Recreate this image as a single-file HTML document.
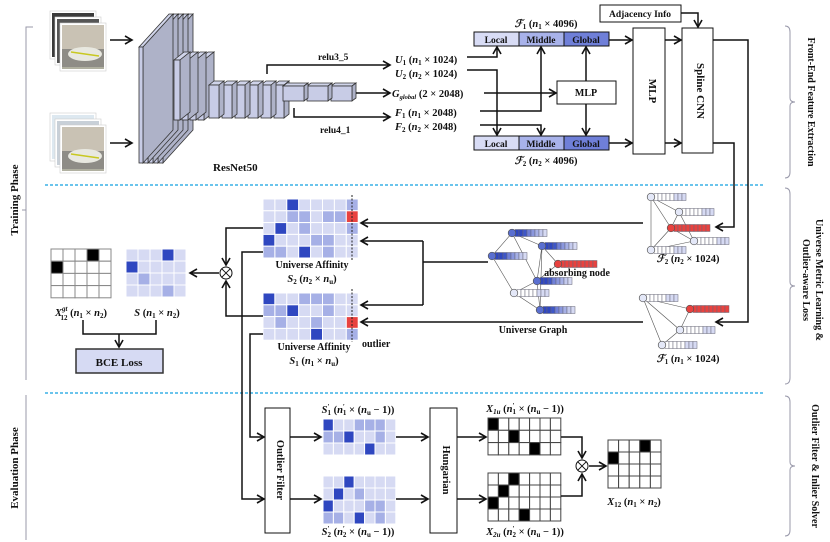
<!DOCTYPE html>
<html><head><meta charset="utf-8"><style>
html,body{margin:0;padding:0;background:#fff}
svg{display:block}
text{font-family:"Liberation Serif",serif;fill:#111}
.b{font-weight:bold}
.i{font-style:italic;font-weight:bold}
</style></head><body>
<svg id="s" width="830" height="542" viewBox="0 0 830 542" xmlns="http://www.w3.org/2000/svg">
<defs>
<marker id="ar" markerWidth="10" markerHeight="10" refX="8" refY="5" orient="auto" markerUnits="userSpaceOnUse"><path d="M1,1 L8,5 L1,9" fill="none" stroke="#111" stroke-width="1.6"/></marker>
</defs>
<g id="g" stroke-linejoin="miter"></g>
</svg>
<script>
const g=document.getElementById('g');let h='';
const L='#d6daf3',M='#a6b0e6',D='#2f47c0',R='#e8423f',W='#fff',K='#000';
function ln(pts,arrow,w){h+=`<polyline points="${pts}" fill="none" stroke="#111" stroke-width="${w||1.5}" ${arrow?'marker-end="url(#ar)"':''}/>`;}
function rect(x,y,w,hh,f,s,sw){h+=`<rect x="${x}" y="${y}" width="${w}" height="${hh}" fill="${f}" stroke="${s||'#111'}" stroke-width="${sw||1}"/>`;}
function t(x,y,s,sz,cls,anc,extra){h+=`<text x="${x}" y="${y}" font-size="${sz||10}" class="${cls||'b'}" text-anchor="${anc||'start'}" ${extra||''}>${s}</text>`;}
function grid(x,y,cw,ch,rows,map,line){rows.forEach((r,i)=>{[...r].forEach((c,j)=>{h+=`<rect x="${x+j*cw}" y="${y+i*ch}" width="${cw}" height="${ch}" fill="${map[c]}" stroke="${line}" stroke-width="1"/>`;});});}
const am={L:L,M:M,D:D,R:R};const bm={'0':W,'1':K};
h+=`<line x1="45" y1="185" x2="765" y2="185" stroke="#3ab0e6" stroke-width="1.5" stroke-dasharray="3,2"/>`;
h+=`<line x1="45" y1="393" x2="765" y2="393" stroke="#3ab0e6" stroke-width="1.5" stroke-dasharray="3,2"/>`;
h+=`<path d="M33,27 L26,27 L26,380" fill="none" stroke="#99a" stroke-width="1"/><path d="M26,210 L22,210" stroke="#99a"/>`;
h+=`<path d="M26,395 L26,540" fill="none" stroke="#99a" stroke-width="1"/>`;
t(18,200,'Training Phase',11,'b','middle','transform="rotate(-90 18 200)"');
t(18,468,'Evaluation Phase',11,'b','middle','transform="rotate(-90 18 468)"');
function brace(y1,y2){const m=(y1+y2)/2;h+=`<path d="M785,${y1} Q790,${y1} 790,${y1+6} L790,${m-4} Q790,${m} 795,${m} Q790,${m} 790,${m+4} L790,${y2-6} Q790,${y2} 785,${y2}" fill="none" stroke="#99a" stroke-width="1"/>`;}
brace(26,178);brace(188,384);brace(396,536);
t(808,102,'Front-End Feature Extraction',10,'b','middle','transform="rotate(90 808 102)"');
t(816,280,'Universe Metric Learning &amp;',10,'b','middle','transform="rotate(90 816 280)"');
t(803,280,'Outlier-aware Loss',10,'b','middle','transform="rotate(90 803 280)"');
t(812,466,'Outlier Filter &amp; Inlier Solver',10,'b','middle','transform="rotate(90 812 466)"');
function imgs(x,y,top){const cols=[top?'#3a3a3a':'#dde8f0',top?'#555':'#c8d0d8','#b0b0a0'];for(let k=0;k<3;k++){const ox=x+k*5,oy=y+k*6;h+=`<rect x="${ox}" y="${oy}" width="44" height="46" fill="${cols[k]}" stroke="#fff" stroke-width="2"/><rect x="${ox-1}" y="${oy-1}" width="46" height="48" fill="none" stroke="#ccc" stroke-width="0.6"/>`;}
const px=x+10,py=y+12;h+=`<rect x="${px+1}" y="${py+1}" width="42" height="24" fill="#c9c2b4"/><rect x="${px+1}" y="${py+25}" width="42" height="18" fill="#8e8c86"/><ellipse cx="${px+24}" cy="${py+30}" rx="17" ry="7" fill="#e8e8e0"/><path d="M${px+10},${py+28} L${px+38},${py+32}" stroke="#c8c820" stroke-width="1.5"/>`;}
imgs(51,12,true);imgs(51,114,false);
ln('110,40 132,40',1);ln('110,143 132,143',1);
function slab(x,y,w,hh,dx,dy){h+=`<polygon points="${x},${y} ${x+dx},${y-dy} ${x+dx+w},${y-dy} ${x+w},${y}" fill="#d0d4ea" stroke="#333" stroke-width="0.8"/><polygon points="${x+w},${y} ${x+w+dx},${y-dy} ${x+w+dx},${y+hh-dy} ${x+w},${y+hh}" fill="#aeb2c8" stroke="#333" stroke-width="0.8"/><rect x="${x}" y="${y}" width="${w}" height="${hh}" fill="#c8cce6" stroke="#333" stroke-width="0.8"/>`;}
for(let k=4;k>=0;k--)slab(139+k*5,47,4,116,30,33);
for(let k=3;k>=0;k--)slab(174+k*8,60,6,60,10,8);
for(let k=5;k>=0;k--)slab(209+k*13,85,10,33,5,4);
for(let k=2;k>=0;k--)slab(283+k*24,86,21,15,4,3);
t(213,171,'ResNet50',11);
ln('267,74 267,65 390,65',1);t(318,60,'relu3_5',9.5);
ln('294,108 294,117 390,117',1);t(320,133,'relu4_1',9.5);
ln('356,93 390,93',1);
const FS=10.5;
t(395,63,'<tspan class="i">U</tspan><tspan font-size="7" dy="2">1</tspan><tspan dy="-2"> (</tspan><tspan class="i">n</tspan><tspan font-size="7" dy="2">1</tspan><tspan dy="-2"> × 1024)</tspan>',FS);
t(395,77,'<tspan class="i">U</tspan><tspan font-size="7" dy="2">2</tspan><tspan dy="-2"> (</tspan><tspan class="i">n</tspan><tspan font-size="7" dy="2">2</tspan><tspan dy="-2"> × 1024)</tspan>',FS);
t(392,97,'<tspan class="i">G</tspan><tspan font-size="6.5" class="i" dy="2">global</tspan><tspan dy="-2"> (2 × 2048)</tspan>',FS);
t(395,116,'<tspan class="i">F</tspan><tspan font-size="7" dy="2">1</tspan><tspan dy="-2"> (</tspan><tspan class="i">n</tspan><tspan font-size="7" dy="2">1</tspan><tspan dy="-2"> × 2048)</tspan>',FS);
t(395,130,'<tspan class="i">F</tspan><tspan font-size="7" dy="2">2</tspan><tspan dy="-2"> (</tspan><tspan class="i">n</tspan><tspan font-size="7" dy="2">2</tspan><tspan dy="-2"> × 2048)</tspan>',FS);
function lmg(y){rect(474,y,45,14,'#d8dcf5');rect(519,y,45,14,'#a8b2ea');rect(564,y,45,14,'#6f7fd8');t(496,y+11,'Local',9.5,'b','middle');t(541,y+11,'Middle',9.5,'b','middle');t(586,y+11,'Global',9.5,'b','middle');}
lmg(32);lmg(136);
t(546,27,'<tspan class="i">ℱ</tspan><tspan font-size="7" dy="2">1</tspan><tspan dy="-2"> (</tspan><tspan class="i">n</tspan><tspan font-size="7" dy="2">1</tspan><tspan dy="-2"> × 4096)</tspan>',FS,'b','middle');
t(546,164,'<tspan class="i">ℱ</tspan><tspan font-size="7" dy="2">2</tspan><tspan dy="-2"> (</tspan><tspan class="i">n</tspan><tspan font-size="7" dy="2">2</tspan><tspan dy="-2"> × 4096)</tspan>',FS,'b','middle');
ln('467,57 497,57 497,47',1);
ln('467,70 497,70 497,135',1);
ln('480,111 541,111 541,47',1);
ln('480,125 541,125 541,135',1);
ln('484,93 556,93',1);
rect(557,81,59,23,'#fff');t(586,96,'MLP',10,'b','middle');
ln('586,81 586,47',1);ln('586,104 586,135',1);
ln('609,40 632,40',1);ln('609,143 632,143',1);
rect(633,28,32,126,'#fff');t(649,91,'MLP',11,'b','middle','transform="rotate(90 649 91)"');
rect(682,28,31,125,'#fff');t(697,91,'Spline CNN',11,'b','middle','transform="rotate(90 697 91)"');
ln('665,40 681,40',1);ln('665,143 681,143',1);
rect(600,5,81,17,'#fff');t(640,17,'Adjacency Info',9.5,'b','middle');
ln('681,13 698,13 698,27',1);
ln('713,40 748,40 748,322 716,322',1);
ln('713,143 734,143 734,227 716,227',1);
function bar(x,y,n,cols){for(let i=0;i<n;i++){h+=`<rect x="${x+i*4}" y="${y-3.5}" width="4" height="7" fill="${cols[i]}" stroke="#667" stroke-width="0.5"/>`;}}
const wb=['#fff','#fff','#fff','#fff','#fff','#d6daf3','#d6daf3','#d6daf3'];
const rb=Array(9).fill(R);
const ub=['#2f47c0','#2f47c0','#3e56c8','#6f7fd8','#8a97de','#a6b0e6','#c4caee','#d6daf3'];
function node(x,y,f){h+=`<circle cx="${x}" cy="${y}" r="3.8" fill="${f}" stroke="#555" stroke-width="0.7"/>`;}
function graph(nodes,edges){edges.forEach(e=>{const a=nodes[e[0]],b=nodes[e[1]];h+=`<line x1="${a[0]}" y1="${a[1]}" x2="${b[0]}" y2="${b[1]}" stroke="#555" stroke-width="0.6"/>`;});nodes.forEach(n=>{bar(n[0]+3,n[1],n[3]||8,n[2]);node(n[0],n[1],n[2]===rb?R:(n[2]===ub?'#5a6fd0':'#e4e8f8'));});}
graph([[651,197,wb],[679,212,wb],[671,228,rb,9],[694,241,wb],[651,250,wb]],[[0,1],[0,2],[0,4],[1,2],[2,3],[2,4],[4,3],[1,3]]);
graph([[643,298,wb],[690,309,rb,9],[680,330,wb],[662,345,wb]],[[0,1],[0,2],[0,3],[1,2],[2,3]]);
graph([[512,233,ub],[542,246,ub],[492,256,ub],[558,264,rb,9],[537,281,ub],[514,293,wb],[540,310,ub]],[[0,1],[0,2],[0,4],[1,4],[1,3],[2,5],[4,3],[4,5],[5,6],[4,6],[1,6]]);
t(688,262,'<tspan class="i">ℱ</tspan><tspan font-size="7" dy="2">2</tspan><tspan dy="-2"> (</tspan><tspan class="i">n</tspan><tspan font-size="7" dy="2">2</tspan><tspan dy="-2"> × 1024)</tspan>',FS,'b','middle');
t(688,362,'<tspan class="i">ℱ</tspan><tspan font-size="7" dy="2">1</tspan><tspan dy="-2"> (</tspan><tspan class="i">n</tspan><tspan font-size="7" dy="2">1</tspan><tspan dy="-2"> × 1024)</tspan>',FS,'b','middle');
t(577,276,'absorbing node',10,'b','middle');
t(533,333,'Universe Graph',10,'b','middle');
ln('643,223 361,223',1);ln('643,322 361,322',1);
ln('488,262 423,262');ln('423,241 423,305');ln('423,241 361,241',1);ln('423,305 361,305',1);
grid(263,199,11.9,11.8,['LLDLLLLM','LLMMLMMR','LDLMLLLM','DLLLMMLL','MMLDLMLL'],am,'#fff');
grid(263,293,11.9,11.8,['DLLMMMLL','MMDLLMLL','LMLLMLLR','LLLLDLLM'],am,'#fff');
h+=`<line x1="352" y1="195" x2="352" y2="260" stroke="#222" stroke-dasharray="2,1.5" stroke-width="1"/><line x1="352" y1="289" x2="352" y2="342" stroke="#222" stroke-dasharray="2,1.5" stroke-width="1"/>`;
t(312,268,'Universe Affinity',10,'b','middle');
t(312,282,'<tspan class="i">S</tspan><tspan font-size="7" dy="2">2</tspan><tspan dy="-2"> (</tspan><tspan class="i">n</tspan><tspan font-size="7" dy="2">2</tspan><tspan dy="-2"> × </tspan><tspan class="i">n</tspan><tspan font-size="7" dy="2">u</tspan><tspan dy="-2">)</tspan>',FS,'b','middle');
t(314,350,'Universe Affinity',10,'b','middle');
t(314,364,'<tspan class="i">S</tspan><tspan font-size="7" dy="2">1</tspan><tspan dy="-2"> (</tspan><tspan class="i">n</tspan><tspan font-size="7" dy="2">1</tspan><tspan dy="-2"> × </tspan><tspan class="i">n</tspan><tspan font-size="7" dy="2">u</tspan><tspan dy="-2">)</tspan>',FS,'b','middle');
t(362,347,'outlier',10);
function ot(x,y){h+=`<circle cx="${x}" cy="${y}" r="6" fill="#fff" stroke="#111" stroke-width="1"/><line x1="${x-4.2}" y1="${y-4.2}" x2="${x+4.2}" y2="${y+4.2}" stroke="#111"/><line x1="${x-4.2}" y1="${y+4.2}" x2="${x+4.2}" y2="${y-4.2}" stroke="#111"/>`;}
ln('263,228 226,228 226,265',1);ln('263,316 226,316 226,281',1);ot(226,273);ln('219,273 190,273',1);
grid(51,249,12,12.2,['00010','10000','00000','00000'],bm,'#888');
grid(126,249,12,12,['LLLDL','DLLLL','LMLLL','LLLML'],am,'#fff');
t(81,316,'<tspan class="i">X</tspan><tspan font-size="7" class="i" dy="-5">gt</tspan><tspan font-size="7" dx="-7" dy="9">12</tspan><tspan dy="-4"> (</tspan><tspan class="i">n</tspan><tspan font-size="7" dy="2">1</tspan><tspan dy="-2"> × </tspan><tspan class="i">n</tspan><tspan font-size="7" dy="2">2</tspan><tspan dy="-2">)</tspan>',FS,'b','middle');
t(157,316,'<tspan class="i">S</tspan><tspan> (</tspan><tspan class="i">n</tspan><tspan font-size="7" dy="2">1</tspan><tspan dy="-2"> × </tspan><tspan class="i">n</tspan><tspan font-size="7" dy="2">2</tspan><tspan dy="-2">)</tspan>',FS,'b','middle');
ln('83,320 83,334 156,334 156,320');ln('119,334 119,347',1);
rect(76,349,87,24,'#d6daf3','#333',1.5);t(119,366,'BCE Loss',11,'b','middle');
ln('263,252 242,252 242,499 264,499',1);ln('263,334 250,334 250,437 264,437',1);
rect(265,408,25,125,'#fff');t(277,470,'Outlier Filter',10.5,'b','middle','transform="rotate(90 277 470)"');
ln('290,437 321,437',1);ln('290,499 321,499',1);
grid(323,419,10.4,12,['DLLMMML','MMDLLML','LLLLDLL'],am,'#fff');
grid(323,476,10.4,12,['LLDLLLL','LDLMLLL','DLLLMML','MMLDLML'],am,'#fff');
t(358,413,'<tspan class="i">S</tspan><tspan font-size="7" dy="-4">′</tspan><tspan font-size="7" dx="-2" dy="6">1</tspan><tspan dy="-2"> (</tspan><tspan class="i">n</tspan><tspan font-size="7" dy="-4">′</tspan><tspan font-size="7" dx="-2" dy="6">1</tspan><tspan dy="-2"> × (</tspan><tspan class="i">n</tspan><tspan font-size="7" dy="2">u</tspan><tspan dy="-2"> − 1))</tspan>',FS,'b','middle');
t(358,535,'<tspan class="i">S</tspan><tspan font-size="7" dy="-4">′</tspan><tspan font-size="7" dx="-2" dy="6">2</tspan><tspan dy="-2"> (</tspan><tspan class="i">n</tspan><tspan font-size="7" dy="-4">′</tspan><tspan font-size="7" dx="-2" dy="6">2</tspan><tspan dy="-2"> × (</tspan><tspan class="i">n</tspan><tspan font-size="7" dy="2">u</tspan><tspan dy="-2"> − 1))</tspan>',FS,'b','middle');
ln('396,437 428,437',1);ln('396,499 428,499',1);
rect(430,408,27,125,'#fff');t(443,470,'Hungarian',10.5,'b','middle','transform="rotate(90 443 470)"');
ln('457,437 486,437',1);ln('457,499 486,499',1);
grid(488,418,10.4,12.3,['1000000','0010000','0000100'],bm,'#444');
grid(488,473,10.4,12,['0010000','0100000','1000000','0001000'],bm,'#444');
t(525,412,'<tspan class="i">X</tspan><tspan font-size="7" class="i" dy="2">1u</tspan><tspan dy="-2"> (</tspan><tspan class="i">n</tspan><tspan font-size="7" dy="-4">′</tspan><tspan font-size="7" dx="-2" dy="6">1</tspan><tspan dy="-2"> × (</tspan><tspan class="i">n</tspan><tspan font-size="7" dy="2">u</tspan><tspan dy="-2"> − 1))</tspan>',FS,'b','middle');
t(525,535,'<tspan class="i">X</tspan><tspan font-size="7" class="i" dy="2">2u</tspan><tspan dy="-2"> (</tspan><tspan class="i">n</tspan><tspan font-size="7" dy="-4">′</tspan><tspan font-size="7" dx="-2" dy="6">2</tspan><tspan dy="-2"> × (</tspan><tspan class="i">n</tspan><tspan font-size="7" dy="2">u</tspan><tspan dy="-2"> − 1))</tspan>',FS,'b','middle');
ln('561,437 582,437 582,458',1);ln('561,496 582,496 582,474',1);ot(582,466);ln('589,466 606,466',1);
grid(608,440,10.6,12,['00010','10000','00000','00000'],bm,'#444');
t(634,505,'<tspan class="i">X</tspan><tspan font-size="7" dy="2">12</tspan><tspan dy="-2"> (</tspan><tspan class="i">n</tspan><tspan font-size="7" dy="2">1</tspan><tspan dy="-2"> × </tspan><tspan class="i">n</tspan><tspan font-size="7" dy="2">2</tspan><tspan dy="-2">)</tspan>',FS,'b','middle');
g.innerHTML=h;
</script>
</body></html>
